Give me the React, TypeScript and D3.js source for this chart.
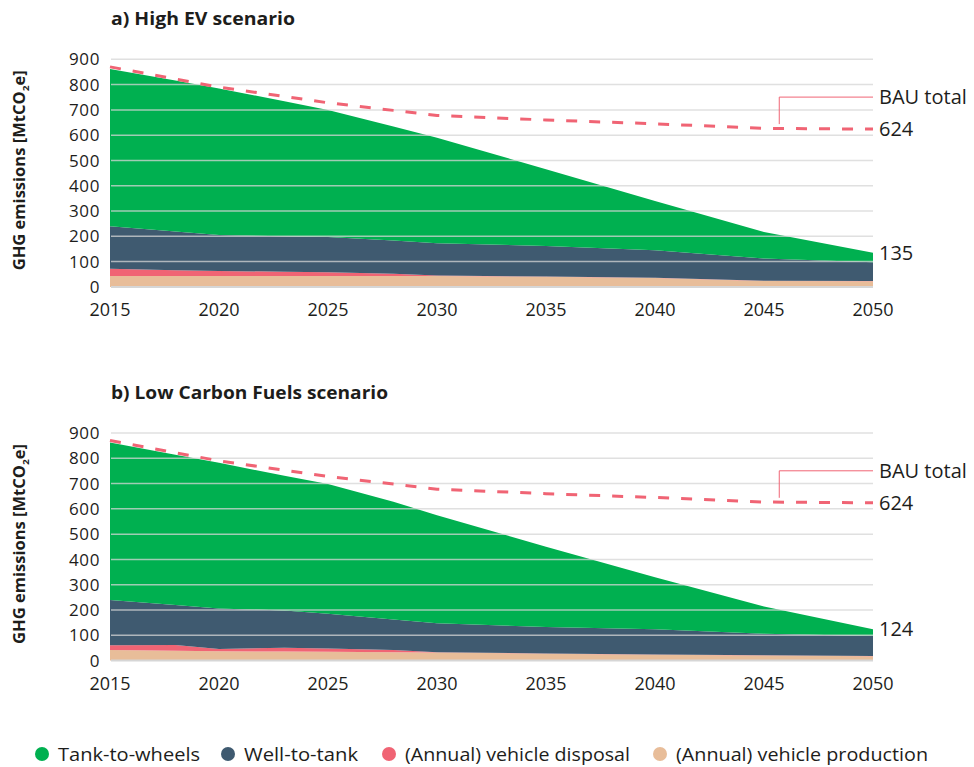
import React from "react";
import * as d3 from "d3";

// Years at which the scenario values are given
const YEARS = [2015, 2018, 2020, 2023, 2025, 2028, 2030, 2035, 2040, 2045, 2050];
const X_TICKS = [2015, 2020, 2025, 2030, 2035, 2040, 2045, 2050];
const Y_TICKS = [0, 100, 200, 300, 400, 500, 600, 700, 800, 900];

// Business-as-usual total (same in both scenarios), MtCO2e
const BAU_TOTAL = [870, 822, 790, 753, 728, 698, 678, 660, 645, 627, 624];

// a) High EV scenario, MtCO2e per component
const EV_PRODUCTION = [43, 43, 43, 43, 43, 43, 43, 40, 35, 23, 22];
const EV_DISPOSAL = [29, 23, 20, 17, 15, 9, 2, 1, 1, 1, 1];
const EV_WELL_TO_TANK = [168, 153, 142, 140, 139, 131, 128, 121, 109, 88, 74];
const EV_TANK_TO_WHEELS = [622, 597, 580, 534, 503, 451, 417, 303, 195, 105, 38];

// b) Low Carbon Fuels scenario, MtCO2e per component
const LCF_PRODUCTION = [42, 39, 37, 36, 35, 33, 32, 27, 23, 20, 17];
const LCF_DISPOSAL = [19, 23, 9, 15, 13, 9, 1, 1, 1, 1, 1];
const LCF_WELL_TO_TANK = [179, 158, 160, 147, 137, 121, 115, 105, 100, 85, 79];
const LCF_TANK_TO_WHEELS = [622, 594, 576, 533, 513, 465, 427, 317, 206, 108, 27];

const SERIES = [
  { key: "ttw", label: "Tank-to-wheels", color: "#00B050" },
  { key: "wtt", label: "Well-to-tank", color: "#3F5A70" },
  { key: "disp", label: "(Annual) vehicle disposal", color: "#F06474" },
  { key: "prod", label: "(Annual) vehicle production", color: "#E8BD99" },
];
const STACK_ORDER = ["prod", "disp", "wtt", "ttw"];

const FONT = "'Open Sans', sans-serif";
const TEXT = "#1d1d1b";
const W = 974;
const H = 767;

type PanelProps = {
  top: number;
  title: string;
  titleWidth: number;
  prod: number[];
  disp: number[];
  wtt: number[];
  ttw: number[];
};

function Panel({ top, title, titleWidth, prod, disp, wtt, ttw }: PanelProps) {
  const x = d3.scaleLinear().domain([2015, 2050]).range([110, 873]);
  const y = d3.scaleLinear().domain([0, 900]).range([top + 227.6, top]);

  const rows = YEARS.map((yr, i) => ({
    year: yr,
    prod: prod[i],
    disp: disp[i],
    wtt: wtt[i],
    ttw: ttw[i],
  }));
  const stacked = d3.stack<any>().keys(STACK_ORDER)(rows);
  const area = d3
    .area<any>()
    .x((d) => x(d.data.year))
    .y0((d) => y(d[0]))
    .y1((d) => y(d[1]));
  const bau = d3
    .line<number>()
    .x((_, i) => x(YEARS[i]))
    .y((d) => y(d));

  const last = YEARS.length - 1;
  const endTotal = prod[last] + disp[last] + wtt[last] + ttw[last];
  const bauEnd = BAU_TOTAL[last];
  const leaderX = x(2045.7);
  const leaderTop = y(bauEnd) - 32;
  const colorOf = (k: string) => SERIES.find((s) => s.key === k)!.color;

  return (
    <g>
      <text
        x={111}
        y={top - 34}
        fontFamily={FONT}
        fontWeight={700}
        fontSize={18}
        fill={TEXT}
        textLength={titleWidth}
        lengthAdjust="spacingAndGlyphs"
      >
        {title}
      </text>
      <text
        transform={`translate(24.5,${top + 111}) rotate(-90)`}
        textAnchor="middle"
        fontFamily={FONT}
        fontWeight={700}
        fontSize={15.5}
        fill={TEXT}
        textLength={200}
        lengthAdjust="spacingAndGlyphs"
      >
        GHG emissions [MtCO
        <tspan fontSize={9.5} dy={4}>2</tspan>
        <tspan dy={-4}>e]</tspan>
      </text>

      {stacked.map((s) => (
        <path key={s.key} d={area(s) || ""} fill={colorOf(s.key as string)} />
      ))}

      {Y_TICKS.map((t) => (
        <g key={t}>
          <line
            x1={111}
            x2={873}
            y1={y(t)}
            y2={y(t)}
            stroke="#d6d6d6"
            strokeOpacity={t === 0 ? 1 : 0.75}
            strokeWidth={t === 0 ? 2 : 1.5}
          />
          <text
            x={100}
            y={y(t)}
            dy="0.36em"
            textAnchor="end"
            fontFamily={FONT}
            fontSize={17}
            letterSpacing={0.6}
            fill={TEXT}
          >
            {t}
          </text>
        </g>
      ))}

      {X_TICKS.map((t) => (
        <text key={t} x={x(t)} y={top + 257} textAnchor="middle" fontFamily={FONT} fontSize={18} fill={TEXT}>
          {t}
        </text>
      ))}

      <path d={bau(BAU_TOTAL) || ""} fill="none" stroke="#F06474" strokeWidth={3} strokeDasharray="11 12" />

      <path
        d={`M${leaderX},${y(bauEnd) - 5}V${leaderTop}H${x(2050)}`}
        fill="none"
        stroke="#F06474"
        strokeWidth={1}
      />
      <text x={879} y={leaderTop} dy="0.36em" fontFamily={FONT} fontSize={20} fill={TEXT}>
        BAU total
      </text>
      <text x={879} y={y(bauEnd)} dy="0.36em" fontFamily={FONT} fontSize={20} fill={TEXT}>
        {bauEnd}
      </text>
      <text x={879} y={y(endTotal)} dy="0.36em" fontFamily={FONT} fontSize={20} fill={TEXT}>
        {endTotal}
      </text>
    </g>
  );
}

const LEGEND_X = [42, 228, 389, 660];
const LEGEND_WIDTH = [142, 114, 225, 252];

export default function App() {
  return (
    <svg width={W} height={H} style={{ position: "absolute", left: 0, top: 0, background: "#fff" }}>
      <Panel
        top={59.3}
        title="a) High EV scenario"
        titleWidth={184}
        prod={EV_PRODUCTION}
        disp={EV_DISPOSAL}
        wtt={EV_WELL_TO_TANK}
        ttw={EV_TANK_TO_WHEELS}
      />
      <Panel
        top={433}
        title="b) Low Carbon Fuels scenario"
        titleWidth={277}
        prod={LCF_PRODUCTION}
        disp={LCF_DISPOSAL}
        wtt={LCF_WELL_TO_TANK}
        ttw={LCF_TANK_TO_WHEELS}
      />
      {SERIES.map((s, i) => (
        <g key={s.key} transform={`translate(${LEGEND_X[i]},754)`}>
          <circle r={7} fill={s.color} />
          <text
            x={16}
            dy="0.36em"
            fontFamily={FONT}
            fontSize={19}
            fill={TEXT}
            textLength={LEGEND_WIDTH[i]}
            lengthAdjust="spacingAndGlyphs"
          >
            {s.label}
          </text>
        </g>
      ))}
    </svg>
  );
}
